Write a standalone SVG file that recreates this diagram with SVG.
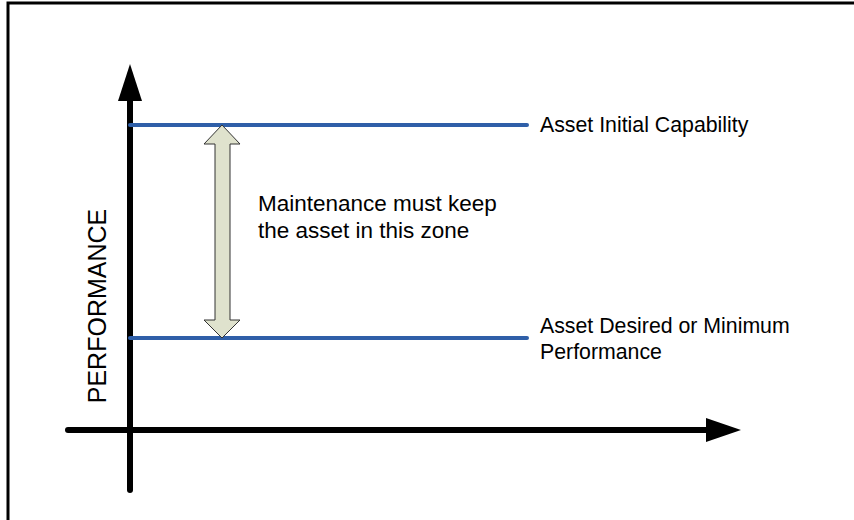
<svg xmlns="http://www.w3.org/2000/svg" width="854" height="520" viewBox="0 0 854 520">
  <style>
    .lbl { font-family: "Liberation Sans", Arial, sans-serif; font-size: 21.3px; fill: #000; }
    .zone { font-size: 22.5px; }
    .axis { stroke: #000; stroke-width: 6; stroke-linecap: round; fill: none; }
    .level { stroke: #2f5fa8; stroke-width: 4; stroke-linecap: round; fill: none; }
  </style>
  <rect width="854" height="520" fill="#fff"/>
  <!-- frame (top and left edges) -->
  <path d="M8 520 V3 H854" fill="none" stroke="#000" stroke-width="3"/>

  <g id="connectors">
    <!-- vertical axis -->
    <line class="axis" x1="130" y1="490" x2="130" y2="98"/>
    <polygon points="130,64 118,101 142,101" fill="#000"/>
    <!-- horizontal axis -->
    <line class="axis" x1="68" y1="430" x2="708" y2="430"/>
    <polygon points="741,430 706,418 706,442" fill="#000"/>
    <!-- capability levels -->
    <line class="level" x1="130" y1="125" x2="527" y2="125"/>
    <line class="level" x1="130" y1="338" x2="527" y2="338"/>
  </g>

  <g id="zone-arrow">
    <polygon points="222,125 240,144 230,144 230,320 240,320 222,338 204,320 215,320 215,144 204,144"
             fill="#dfe2cd" stroke="#333" stroke-width="1"/>
  </g>

  <g id="label-initial">
    <text class="lbl" x="540" y="132">Asset Initial Capability</text>
  </g>
  <g id="label-minimum">
    <text class="lbl" x="540" y="333">Asset Desired or Minimum</text>
    <text class="lbl" x="540" y="359">Performance</text>
  </g>
  <g id="label-zone">
    <text class="lbl zone" x="258" y="211">Maintenance must keep</text>
    <text class="lbl zone" x="258" y="238">the asset in this zone</text>
  </g>
  <g id="label-axis">
    <text class="lbl" style="font-size:25px" text-anchor="middle" transform="translate(106 306) rotate(-90)">PERFORMANCE</text>
  </g>
</svg>
